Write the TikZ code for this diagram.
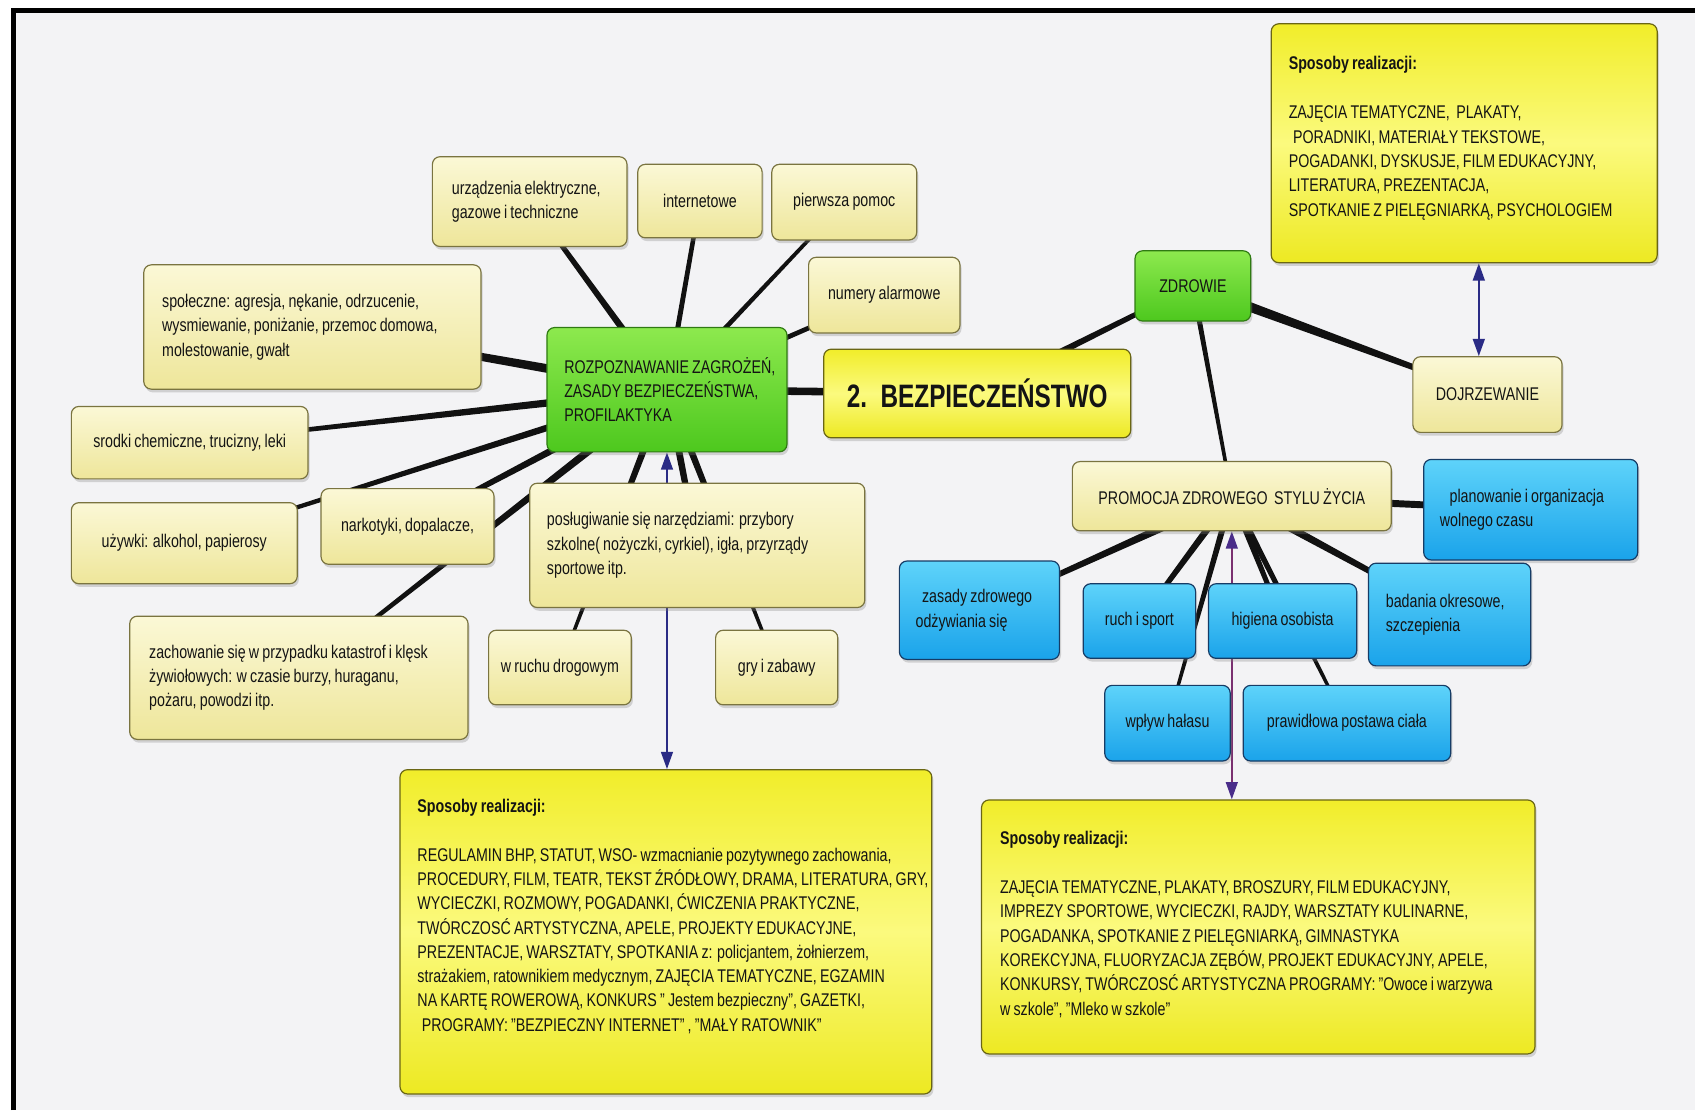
\documentclass[tikz,border=0pt]{standalone}
\usepackage{fontspec}
\setmainfont{Liberation Sans}[FakeStretch=0.775,WordSpace=0.8]
\newfontfamily\condfont{Liberation Sans}[FakeStretch=0.75]
\usetikzlibrary{shadows,calc,arrows.meta,backgrounds}
\definecolor{bgcol}{HTML}{F3F3F5}
\definecolor{txt}{HTML}{141414}
\definecolor{linec}{HTML}{111111}
\definecolor{palet}{HTML}{FBF8D6}
\definecolor{paleb}{HTML}{EEE69A}
\definecolor{paled}{HTML}{7A7440}
\definecolor{brightt}{HTML}{F1ED2A}
\definecolor{brightm}{HTML}{FBFA7E}
\definecolor{brightb}{HTML}{EDE922}
\definecolor{brightd}{HTML}{6A6614}
\definecolor{grnt}{HTML}{8DE94E}
\definecolor{grnb}{HTML}{4DC81E}
\definecolor{grnd}{HTML}{2F7A12}
\definecolor{blut}{HTML}{5ED3FA}
\definecolor{blub}{HTML}{1AA3EA}
\definecolor{blud}{HTML}{163C66}
\definecolor{arrnavy}{HTML}{2A2B85}
\definecolor{purpline}{HTML}{7A3070}
\definecolor{purptip}{HTML}{4A2D8A}
\newcommand\mbx[1]{\mbox{#1}}
\newcommand\mytaper[4]{\fill[linec] let \p1=($(#2)-(#1)$), \n1={atan2(\y1,\x1)} in
  ($(#1)+(\n1+90:#3)$) -- ($(#2)+(\n1+90:#4)$) -- ($(#2)+(\n1-90:#4)$) -- ($(#1)+(\n1-90:#3)$) -- cycle;}
\tikzset{
  box/.style={rounded corners=7pt, line width=1.1pt, font=\fontsize{17}{22.5}\selectfont, text=txt,
    drop shadow={opacity=0.3,shadow xshift=1.5pt,shadow yshift=-3pt}, align=center},
  lbox/.style={align=flush left},
  pale/.style={box, draw=paled, top color=palet, bottom color=paleb},
  bright/.style={box, draw=brightd, top color=brightt, bottom color=brightb, middle color=brightm},
  grn/.style={box, draw=grnd, top color=grnt, bottom color=grnb},
  blu/.style={box, draw=blud, top color=blut, bottom color=blub},
  txtblock/.style={font=\fontsize{17}{22.5}\selectfont, text=txt, align=left, inner sep=0pt, anchor=north west},
  navyarrow/.style={line width=1.8pt, draw=arrnavy,
    {Triangle[length=16pt,width=11pt,color=arrnavy]}-{Triangle[length=16pt,width=11pt,color=arrnavy]}},
  purparrow/.style={line width=1.6pt, draw=purpline,
    {Triangle[length=16pt,width=11pt,color=purptip]}-{Triangle[length=16pt,width=11pt,color=purptip]}}
}
\begin{document}
\begin{tikzpicture}[x=1pt,y=-1pt]
\useasboundingbox (0,0) rectangle (1568,1027);

% left hub
\node[pale, lbox, minimum width=180pt, minimum height=83pt, text width=144pt, inner xsep=18pt] (urz) at (490,186.5) {\mbx{urządzenia elektryczne,}\\\mbx{gazowe i techniczne}};
\node[pale, minimum width=115pt, minimum height=68pt] (int) at (647.5,186) {internetowe};
\node[pale, minimum width=134pt, minimum height=70pt] (pp) at (781,187) {pierwsza pomoc};
\node[pale, minimum width=140pt, minimum height=70pt] (num) at (818,273) {numery alarmowe};
\node[pale, lbox, minimum height=115pt, text width=278pt, inner xsep=17pt] (spol) at (289,302.5) {\mbx{społeczne: agresja, nękanie, odrzucenie,}\\\mbx{wysmiewanie, poniżanie, przemoc domowa,}\\\mbx{molestowanie, gwałt}};
\node[grn, lbox, minimum height=115pt, text width=190pt, inner xsep=16pt] (rz) at (617,360.5) {\mbx{ROZPOZNAWANIE ZAGROŻEŃ,}\\\mbx{ZASADY BEZPIECZEŃSTWA,}\\\mbx{PROFILAKTYKA}};
\node[bright, minimum width=284pt, minimum height=82pt, font=\condfont\fontsize{30}{36}\selectfont\bfseries] (bez) at (904,364) {2.\ \ BEZPIECZEŃSTWO};
\node[pale, minimum width=219pt, minimum height=67pt] (srod) at (175.5,409.5) {srodki chemiczne, trucizny, leki};
\node[pale, minimum width=209pt, minimum height=75pt] (uzyw) at (170.5,502.5) {używki: alkohol, papierosy};
\node[pale, minimum width=160pt, minimum height=70pt] (nark) at (377,487) {narkotyki, dopalacze,};
\node[pale, lbox, minimum height=115pt, text width=278pt, inner xsep=16pt] (posl) at (645,504.5) {\mbx{posługiwanie się narzędziami: przybory}\\\mbx{szkolne( nożyczki, cyrkiel), igła, przyrządy}\\\mbx{sportowe itp.}};
\node[pale, lbox, minimum height=114pt, text width=277pt, inner xsep=18pt] (zach) at (276.5,627) {\mbx{zachowanie się w przypadku katastrof i klęsk}\\\mbx{żywiołowych: w czasie burzy, huraganu,}\\\mbx{pożaru, powodzi itp.}};
\node[pale, minimum width=132pt, minimum height=69pt] (wruch) at (518,617.5) {w ruchu drogowym};
\node[pale, minimum width=113pt, minimum height=69pt] (gry) at (718.5,617.5) {gry i zabawy};
\node[bright, minimum width=492pt, minimum height=300pt] (sp1) at (616,862) {};
\node[txtblock] (sp1t) at (386,739) {\textbf{Sposoby realizacji:}\\[22.5pt]
REGULAMIN BHP, STATUT, WSO- wzmacnianie pozytywnego zachowania,\\
PROCEDURY, FILM, TEATR, TEKST ŹRÓDŁOWY, DRAMA, LITERATURA, GRY,\\
WYCIECZKI, ROZMOWY, POGADANKI, ĆWICZENIA PRAKTYCZNE,\\
TWÓRCZOSĆ ARTYSTYCZNA, APELE, PROJEKTY EDUKACYJNE,\\
PREZENTACJE, WARSZTATY, SPOTKANIA z: policjantem, żołnierzem,\\
strażakiem, ratownikiem medycznym, ZAJĘCIA TEMATYCZNE, EGZAMIN\\
NA KARTĘ ROWEROWĄ, KONKURS " Jestem bezpieczny", GAZETKI,\\
\hspace*{4pt}PROGRAMY: "BEZPIECZNY INTERNET" , "MAŁY RATOWNIK"};

% right hub
\node[grn, minimum width=107pt, minimum height=65pt] (zdr) at (1103.5,264.5) {ZDROWIE};
\node[pale, minimum width=138pt, minimum height=70pt] (doj) at (1376,365) {DOJRZEWANIE};
\node[bright, minimum width=357pt, minimum height=221pt] (sp3) at (1354.5,132.5) {};
\node[txtblock] (sp3t) at (1192,52) {\textbf{Sposoby realizacji:}\\[23pt]
ZAJĘCIA TEMATYCZNE,\ \ PLAKATY,\\
\hspace*{4pt}PORADNIKI, MATERIAŁY TEKSTOWE,\\
POGADANKI, DYSKUSJE, FILM EDUKACYJNY,\\
LITERATURA, PREZENTACJA,\\
SPOTKANIE Z PIELĘGNIARKĄ, PSYCHOLOGIEM};
\node[pale, minimum width=295pt, minimum height=64pt] (prom) at (1139.5,459) {PROMOCJA ZDROWEGO\ \ STYLU ŻYCIA};
\node[blu, lbox, minimum height=93pt, text width=168pt, inner xsep=15pt] (plan) at (1416,471.5) {\mbx{\hspace*{9pt}planowanie i organizacja}\\\mbx{wolnego czasu}};
\node[blu, lbox, minimum height=91pt, text width=118pt, inner xsep=15pt] (zas) at (906,564.5) {\mbx{\hspace*{6pt}zasady zdrowego}\\\mbx{odżywiania się}};
\node[blu, minimum width=104pt, minimum height=69pt] (ruch) at (1054,574.5) {ruch i sport};
\node[blu, minimum width=137pt, minimum height=69pt] (hig) at (1186.5,574.5) {higiena osobista};
\node[blu, lbox, minimum height=95pt, text width=118pt, inner xsep=16pt] (bad) at (1341,568.5) {\mbx{badania okresowe,}\\\mbx{szczepienia}};
\node[blu, minimum width=116pt, minimum height=70pt] (wpl) at (1080,669) {wpływ hałasu};
\node[blu, minimum width=192pt, minimum height=70pt] (praw) at (1246,669) {prawidłowa postawa ciała};
\node[bright, minimum width=512pt, minimum height=235pt] (sp2) at (1164,857.5) {};
\node[txtblock] (sp2t) at (925,769) {\textbf{Sposoby realizacji:}\\[22.5pt]
ZAJĘCIA TEMATYCZNE, PLAKATY, BROSZURY, FILM EDUKACYJNY,\\
IMPREZY SPORTOWE, WYCIECZKI, RAJDY, WARSZTATY KULINARNE,\\
POGADANKA, SPOTKANIE Z PIELĘGNIARKĄ, GIMNASTYKA\\
KOREKCYJNA, FLUORYZACJA ZĘBÓW, PROJEKT EDUKACYJNY, APELE,\\
KONKURSY, TWÓRCZOSĆ ARTYSTYCZNA PROGRAMY: "Owoce i warzywa\\
w szkole", "Mleko w szkole"};

\coordinate (dj) at ($(doj.north)+(-8,0)$);

\begin{scope}[on background layer]
  \fill[white] (0,0) rectangle (1568,1027);
  \fill[bgcol] (12,10) rectangle (1568,1027);
  \draw[line width=4.5pt, black] (12.5,1027) -- (12.5,10) -- (1568,10);
  % connectors from RZ
  \mytaper{rz}{spol}{4.5pt}{3pt}
  \mytaper{rz}{urz}{3.5pt}{2pt}
  \mytaper{rz}{int}{2.5pt}{2pt}
  \mytaper{rz}{pp}{2.5pt}{1.5pt}
  \mytaper{rz}{num}{2.5pt}{2pt}
  \mytaper{rz}{bez}{3.5pt}{3.5pt}
  \mytaper{rz}{srod}{4pt}{1.5pt}
  \mytaper{rz}{uzyw}{3.5pt}{1.5pt}
  \mytaper{rz}{nark}{4pt}{2pt}
  \mytaper{rz}{zach}{4pt}{1.5pt}
  \mytaper{rz}{posl}{3.5pt}{2.5pt}
  \mytaper{rz}{wruch}{3.5pt}{1.3pt}
  \mytaper{rz}{gry}{3.5pt}{1.3pt}
  % right
  \mytaper{bez}{zdr}{3.5pt}{2pt}
  \mytaper{zdr}{doj}{5pt}{2pt}
  \mytaper{zdr}{prom}{2.5pt}{1.5pt}
  \mytaper{prom}{plan}{3.5pt}{3pt}
  \mytaper{prom}{zas}{4pt}{2pt}
  \mytaper{prom}{ruch}{3.5pt}{2pt}
  \mytaper{prom}{wpl}{3pt}{1.3pt}
  \mytaper{prom}{hig}{3pt}{2pt}
  \mytaper{prom}{praw}{3pt}{1.3pt}
  \mytaper{prom}{bad}{4pt}{2pt}
  % arrows
  \draw[navyarrow] (rz.south) -- (rz.south |- sp1.north);
  \draw[navyarrow] (dj |- sp3.south) -- (dj);
  \draw[purparrow] (prom.south) -- (prom.south |- sp2.north);
\end{scope}
\end{tikzpicture}
\end{document}
